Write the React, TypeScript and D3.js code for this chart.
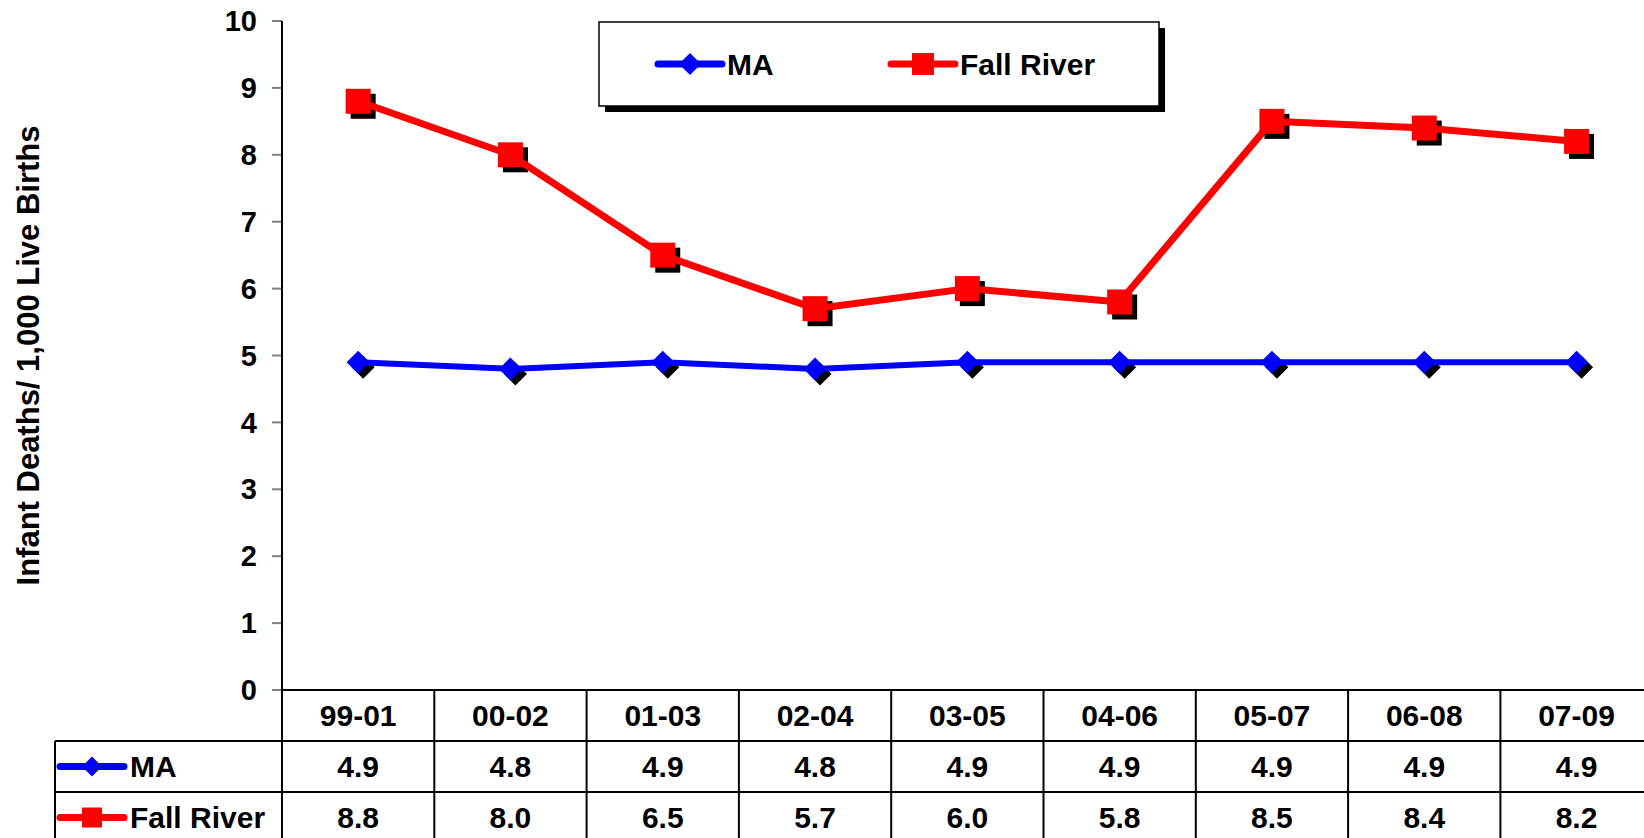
import React from "react";
import * as d3 from "d3";

// Three-year rolling periods and infant mortality rates per 1,000 live births
const categories = ["99-01", "00-02", "01-03", "02-04", "03-05", "04-06", "05-07", "06-08", "07-09"];
const maValues = [4.9, 4.8, 4.9, 4.8, 4.9, 4.9, 4.9, 4.9, 4.9];
const fallRiverValues = [8.8, 8.0, 6.5, 5.7, 6.0, 5.8, 8.5, 8.4, 8.2];
const yTicks = [0, 1, 2, 3, 4, 5, 6, 7, 8, 9, 10];

const seriesList = [
  { name: "MA", values: maValues, color: "#0000ff", shape: "diamond", width: 6, size: 23 },
  { name: "Fall River", values: fallRiverValues, color: "#ff0000", shape: "square", width: 7, size: 25 },
];

const W = 1644;
const H = 838;
const FONT = "'Liberation Sans', Arial, Helvetica, sans-serif";

const plotLeft = 282;
const colWidth = 152.3;
const plotTop = 21;
const plotBottom = 690;
const rowH = 51;
const tableLeft = 55;

function Marker({ shape, x, y, size, fill }: { shape: string; x: number; y: number; size: number; fill: string }) {
  if (shape === "square") {
    return <rect x={x - size / 2} y={y - size / 2} width={size} height={size} fill={fill} />;
  }
  const h = size / 2;
  return <path d={`M${x},${y - h}L${x + h},${y}L${x},${y + h}L${x - h},${y}Z`} fill={fill} />;
}

function LegendKey({ x, y, color, shape, lineW, markSize }: any) {
  return (
    <g>
      <line x1={x - 32} x2={x + 32} y1={y} y2={y} stroke={color} strokeWidth={lineW} strokeLinecap="round" />
      <Marker shape={shape} x={x} y={y} size={markSize} fill={color} />
    </g>
  );
}

export default function App() {
  const x = d3
    .scaleBand<string>()
    .domain(categories)
    .range([plotLeft, plotLeft + colWidth * categories.length])
    .padding(0);
  const y = d3.scaleLinear().domain([0, 10]).range([plotBottom, plotTop]);
  const cx = (c: string) => (x(c) as number) + x.bandwidth() / 2;

  const line = d3
    .line<number>()
    .x((_, i) => cx(categories[i]))
    .y((v) => y(v));

  const fmt = d3.format(".1f");
  const right = plotLeft + colWidth * categories.length;
  const shadow = 5;

  return (
    <div style={{ position: "absolute", left: 0, top: 0 }}>
      <svg width={W} height={H} style={{ display: "block", background: "#fff" }} fontFamily={FONT} fontWeight="bold">
        {/* y axis title */}
        <text
          transform={`translate(28,${(plotTop + plotBottom) / 2}) rotate(-90)`}
          textAnchor="middle"
          dominantBaseline="central"
          fontSize={31}
          fill="#000"
        >
          Infant Deaths/ 1,000 Live Births
        </text>

        {/* y axis ticks */}
        {yTicks.map((t) => (
          <g key={t}>
            <line x1={plotLeft - 10} x2={plotLeft} y1={y(t)} y2={y(t)} stroke="#808080" strokeWidth={2} />
            <text x={plotLeft - 25} y={y(t)} dy="0.35em" textAnchor="end" fontSize={29} fill="#000">
              {t}
            </text>
          </g>
        ))}
        <line x1={plotLeft} x2={plotLeft} y1={plotTop} y2={H} stroke="#000" strokeWidth={2} />

        {/* data table */}
        <line x1={plotLeft} x2={right} y1={plotBottom} y2={plotBottom} stroke="#000" strokeWidth={2} />
        <line x1={tableLeft} x2={right} y1={plotBottom + rowH} y2={plotBottom + rowH} stroke="#000" strokeWidth={2} />
        <line x1={tableLeft} x2={right} y1={plotBottom + rowH * 2} y2={plotBottom + rowH * 2} stroke="#000" strokeWidth={2} />
        <line x1={tableLeft} x2={tableLeft} y1={plotBottom + rowH} y2={H} stroke="#000" strokeWidth={2} />
        {categories.map((c) => (
          <line key={c} x1={(x(c) as number) + x.bandwidth()} x2={(x(c) as number) + x.bandwidth()} y1={plotBottom} y2={H} stroke="#000" strokeWidth={2} />
        ))}
        {categories.map((c) => (
          <text key={c} x={cx(c)} y={plotBottom + rowH / 2} dy="0.35em" textAnchor="middle" fontSize={30} fill="#000">
            {c}
          </text>
        ))}
        {seriesList.map((s, r) => {
          const rowY = plotBottom + rowH * (r + 1) + rowH / 2;
          return (
            <g key={s.name}>
              <LegendKey x={92} y={rowY} color={s.color} shape={s.shape} lineW={7} markSize={20} />
              <text x={130} y={rowY} dy="0.35em" fontSize={30} fill="#000">
                {s.name}
              </text>
              {s.values.map((v, i) => (
                <text key={i} x={cx(categories[i])} y={rowY} dy="0.35em" textAnchor="middle" fontSize={30} fill="#000">
                  {fmt(v)}
                </text>
              ))}
            </g>
          );
        })}

        {/* series: marker shadows, lines, markers */}
        {seriesList.map((s) => (
          <g key={s.name}>
            {s.values.map((v, i) => (
              <Marker key={"sh" + i} shape={s.shape} x={cx(categories[i]) + shadow} y={y(v) + shadow} size={s.size} fill="#000" />
            ))}
            <path d={line(s.values) as string} fill="none" stroke={s.color} strokeWidth={s.width} strokeLinejoin="round" />
            {s.values.map((v, i) => (
              <Marker key={"m" + i} shape={s.shape} x={cx(categories[i])} y={y(v)} size={s.size} fill={s.color} />
            ))}
          </g>
        ))}

        {/* legend */}
        <rect x={605} y={28} width={560} height={84} fill="#000" />
        <rect x={599} y={22} width={560} height={84} fill="#fff" stroke="#000" strokeWidth={1.5} />
        <LegendKey x={690} y={64} color="#0000ff" shape="diamond" lineW={7} markSize={22} />
        <text x={727} y={64} dy="0.35em" fontSize={30} fill="#000">MA</text>
        <LegendKey x={923} y={64} color="#ff0000" shape="square" lineW={7} markSize={22} />
        <text x={960} y={64} dy="0.35em" fontSize={30} fill="#000">Fall River</text>
      </svg>
    </div>
  );
}
